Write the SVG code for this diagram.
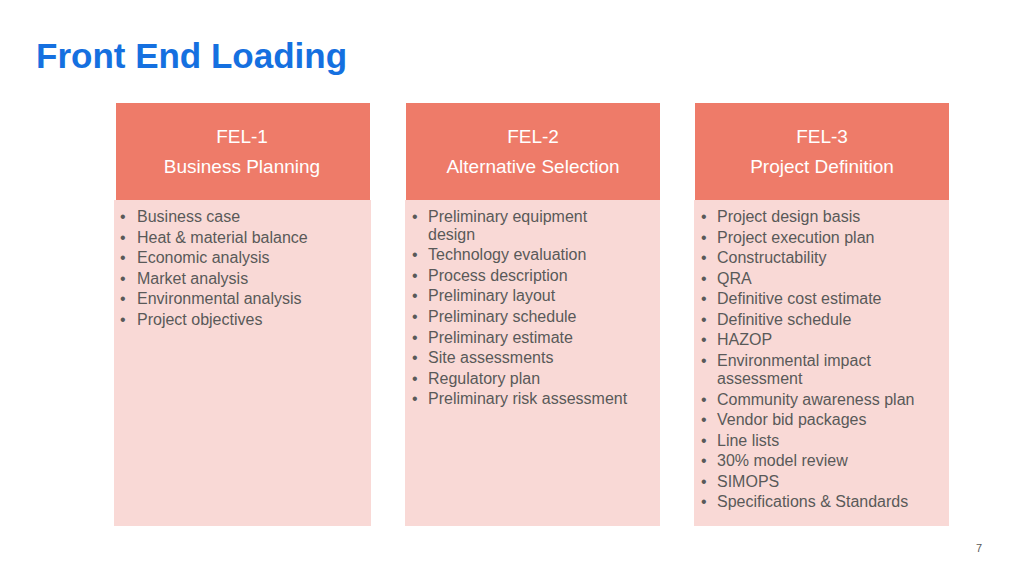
<svg xmlns="http://www.w3.org/2000/svg" width="1024" height="576" viewBox="0 0 1024 576">
<style>
.h{fill:#EE7B69}.b{fill:#F9D9D6}
.ht{font-family:"Liberation Sans",Arial,sans-serif;font-size:19px;fill:#fff;text-anchor:middle}
.t{font-family:"Liberation Sans",Arial,sans-serif;font-size:16px;fill:#595959}
</style>
<rect width="1024" height="576" fill="#fff"/>
<text x="36" y="68" font-family="Liberation Sans,Arial,sans-serif" font-size="35" font-weight="bold" fill="#1570E0">Front End Loading</text>
<g id="fel1">
<rect class="b" x="114" y="200" width="257" height="326"/>
<rect class="h" x="116" y="103" width="254" height="97"/>
<text class="ht" x="242" y="143">FEL-1</text>
<text class="ht" x="242" y="173">Business Planning</text>
<g class="t">
<text x="120" y="222">•</text><text x="137" y="222">Business case</text>
<text x="120" y="243">•</text><text x="137" y="243">Heat &amp; material balance</text>
<text x="120" y="263">•</text><text x="137" y="263">Economic analysis</text>
<text x="120" y="284">•</text><text x="137" y="284">Market analysis</text>
<text x="120" y="304">•</text><text x="137" y="304">Environmental analysis</text>
<text x="120" y="325">•</text><text x="137" y="325">Project objectives</text>
</g>
</g>
<g id="fel2">
<rect class="b" x="405" y="200" width="255" height="326"/>
<rect class="h" x="406" y="103" width="254" height="97"/>
<text class="ht" x="533" y="143">FEL-2</text>
<text class="ht" x="533" y="173">Alternative Selection</text>
<g class="t">
<text x="412" y="222">•</text><text x="428" y="222">Preliminary equipment</text>
<text x="428" y="240">design</text>
<text x="412" y="260">•</text><text x="428" y="260">Technology evaluation</text>
<text x="412" y="281">•</text><text x="428" y="281">Process description</text>
<text x="412" y="301">•</text><text x="428" y="301">Preliminary layout</text>
<text x="412" y="322">•</text><text x="428" y="322">Preliminary schedule</text>
<text x="412" y="343">•</text><text x="428" y="343">Preliminary estimate</text>
<text x="412" y="363">•</text><text x="428" y="363">Site assessments</text>
<text x="412" y="384">•</text><text x="428" y="384">Regulatory plan</text>
<text x="412" y="404">•</text><text x="428" y="404">Preliminary risk assessment</text>
</g>
</g>
<g id="fel3">
<rect class="b" x="694" y="200" width="255" height="326"/>
<rect class="h" x="695" y="103" width="254" height="97"/>
<text class="ht" x="822" y="143">FEL-3</text>
<text class="ht" x="822" y="173">Project Definition</text>
<g class="t">
<text x="701" y="222">•</text><text x="717" y="222">Project design basis</text>
<text x="701" y="243">•</text><text x="717" y="243">Project execution plan</text>
<text x="701" y="263">•</text><text x="717" y="263">Constructability</text>
<text x="701" y="284">•</text><text x="717" y="284">QRA</text>
<text x="701" y="304">•</text><text x="717" y="304">Definitive cost estimate</text>
<text x="701" y="325">•</text><text x="717" y="325">Definitive schedule</text>
<text x="701" y="345">•</text><text x="717" y="345">HAZOP</text>
<text x="701" y="366">•</text><text x="717" y="366">Environmental impact</text>
<text x="717" y="384">assessment</text>
<text x="701" y="405">•</text><text x="717" y="405">Community awareness plan</text>
<text x="701" y="425">•</text><text x="717" y="425">Vendor bid packages</text>
<text x="701" y="446">•</text><text x="717" y="446">Line lists</text>
<text x="701" y="466">•</text><text x="717" y="466">30% model review</text>
<text x="701" y="487">•</text><text x="717" y="487">SIMOPS</text>
<text x="701" y="507">•</text><text x="717" y="507">Specifications &amp; Standards</text>
</g>
</g>
<g id="connectors"/>
<text x="979" y="552" font-family="Liberation Sans,Arial,sans-serif" font-size="11" fill="#595959" text-anchor="middle">7</text>
</svg>
